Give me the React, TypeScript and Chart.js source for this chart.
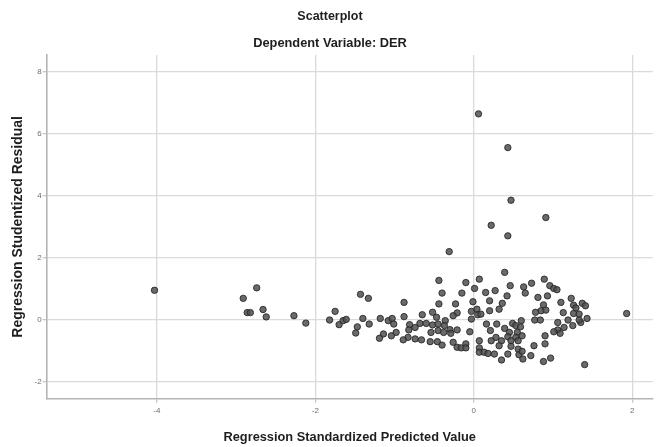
import { useEffect, useRef } from "react";
import { Chart, registerables } from "chart.js";

Chart.register(...registerables);

// Regression Standardized Predicted Value (x) / Studentized Residual (y)
const PREDICTED: number[] = [
  0.06, 0.43, 0.47, 0.91, 0.22, 0.43, -0.31, 0.39,
  -4.03, -2.91, -2.74, -2.86, -2.82, -2.66, -2.62, -2.27, -2.12,
  -1.82, -1.75, -1.70, -1.65, -1.61, -1.43, -1.33, -1.40, -1.32, -1.47, -1.49, -1.18, -1.08, -1.03, -1.01, -0.98, -1.04, -1.14, -1.19, -0.88, -0.88, -0.81, -0.82, -0.83, -0.89, -0.74, -0.74,
  -0.44, -0.40, -0.44, -0.65, -0.52, -0.47, -0.68, -0.60, -0.52, -0.45, -0.36, -0.37, -0.45, -0.54, -0.38, -0.30, -0.21, -0.29, -0.66, -0.55, -0.46, -0.40, -0.26, -0.21, -0.16, -0.10, -0.10, -0.23, -0.21, -0.26, -0.15, -0.10, 0.01, 0.07, -0.01, -0.03, -0.03, 0.04, 0.05, 0.09, 0.15, 0.20, 0.20, 0.27, 0.16, 0.21, -0.05, 0.07, 0.07, 0.07, 0.13, 0.18, 0.22, 0.26, 0.28, 0.29,
  0.46, 0.42, 0.36, 0.32, 0.63, 0.65, 0.73, 0.89, 0.96, 1.01, 1.05, 0.81, 0.93, 0.88, 0.85, 0.91, 0.78, 0.77, 0.84, 1.10, 1.23, 1.26, 1.26, 1.19, 1.14, 1.06, 1.06, 1.01, 1.09, 0.90, 0.90, 0.76, 0.72, 0.88, 0.97, 0.60, 0.49, 0.53, 0.59, 0.39, 0.45, 0.55, 0.61, 0.53, 0.43, 0.35, 0.47, 0.56, 0.32, 0.47, 0.43, 0.35, 0.56, 0.57, 0.61, 0.62,
  1.37, 1.41, 1.33, 1.43, 1.35, 1.33, 1.40, 1.93,
  1.29, 1.13, 1.25,
];

const RESIDUAL: number[] = [
  6.65, 5.56, 3.86, 3.30, 3.05, 2.71, 2.20, 1.53,
  0.95, 0.69, 1.03, 0.23, 0.23, 0.33, 0.09, 0.13, -0.11,
  -0.01, 0.27, -0.16, -0.03, 0.01, 0.82, 0.69, 0.04, -0.14, -0.23, -0.43, 0.04, -0.03, 0.04, -0.14, -0.41, -0.52, -0.46, -0.60, 0.56, 0.10, -0.16, -0.33, -0.57, -0.65, -0.25, -0.62,
  1.27, 0.86, 0.51, 0.16, 0.24, 0.08, -0.12, -0.12, -0.17, -0.14, -0.03, -0.19, -0.35, -0.41, -0.41, -0.32, -0.33, -0.44, -0.65, -0.71, -0.71, -0.82, -0.73, -0.89, -0.91, -0.78, -0.91, 0.51, 0.22, 0.13, 0.86, 1.20, 1.01, 1.31, 0.58, 0.27, 0.02, 0.34, 0.16, 0.18, 0.88, 0.61, 0.29, 0.94, -0.14, -0.35, -0.39, -0.68, -0.91, -1.05, -1.05, -1.09, -0.68, -1.11, -0.57, -0.14,
  1.10, 0.77, 0.53, 0.34, 1.06, 0.86, 1.18, 1.31, 1.10, 1.01, 0.97, 0.72, 0.77, 0.48, 0.29, 0.31, 0.24, -0.01, -0.01, 0.56, 0.69, 0.47, 0.20, -0.01, -0.25, -0.09, -0.33, -0.39, -0.44, -0.52, -0.78, -0.84, -1.16, -1.35, -1.24, -0.03, -0.12, -0.19, -0.23, -0.28, -0.41, -0.41, -0.52, -0.57, -0.55, -0.68, -0.68, -0.68, -0.84, -0.86, -1.11, -1.30, -0.95, -1.13, -1.02, -1.27,
  0.53, 0.45, 0.18, 0.04, -0.09, -0.01, -1.45, 0.20,
  0.38, 0.23, -0.19,
];

const X_TICKS = [-4, -2, 0, 2];
const Y_TICKS = [-2, 0, 2, 4, 6, 8];

const TITLE = "Scatterplot";
const SUBTITLE = "Dependent Variable: DER";
const X_TITLE = "Regression Standardized Predicted Value";
const Y_TITLE = "Regression Studentized Residual";

const FONT = "'Liberation Sans', Arial, sans-serif";

export default function App() {
  const ref = useRef<HTMLCanvasElement | null>(null);

  useEffect(() => {
    if (!ref.current) return;
    const points = PREDICTED.map((x, i) => ({ x, y: RESIDUAL[i] }));
    const chart = new Chart(ref.current, {
      type: "scatter",
      data: {
        datasets: [
          {
            data: points,
            pointRadius: 3.2,
            pointHoverRadius: 3.2,
            backgroundColor: "rgba(80,80,80,0.85)",
            borderColor: "rgba(35,35,35,0.85)",
            borderWidth: 1,
          },
        ],
      },
      options: {
        animation: false,
        responsive: true,
        maintainAspectRatio: false,
        layout: { padding: { left: 0, right: -3, top: 0, bottom: 0 } },
        plugins: {
          legend: { display: false },
          tooltip: { enabled: false },
          title: {
            display: true,
            text: TITLE,
            color: "#1e1e1e",
            font: { family: FONT, size: 12.5, weight: "bold" },
            padding: { top: 9.5, bottom: 11 },
          },
          subtitle: {
            display: true,
            text: SUBTITLE,
            color: "#1e1e1e",
            font: { family: FONT, size: 12.8, weight: "bold" },
            padding: { top: 0, bottom: 4.2 },
          },
        },
        scales: {
          x: {
            type: "linear",
            min: -5.392,
            max: 2.26,
            afterBuildTicks: (scale: any) => {
              scale.ticks = X_TICKS.map((v) => ({ value: v }));
            },
            ticks: {
              color: "#6e6e6e",
              font: { family: FONT, size: 8 },
              padding: 3,
              maxRotation: 0,
              minRotation: 0,
            },
            grid: {
              color: "#dadada",
              lineWidth: 1.3,
              tickLength: 4,
              tickColor: "#c8c8c8",
            },
            border: { display: true, color: "#b4b4b4", width: 1.6 },
            title: {
              display: true,
              text: X_TITLE,
              color: "#1e1e1e",
              font: { family: FONT, size: 12.8, weight: "bold" },
              padding: { top: 11.2, bottom: 2.2 },
            },
          },
          y: {
            type: "linear",
            min: -2.55,
            max: 8.55,
            afterBuildTicks: (scale: any) => {
              scale.ticks = Y_TICKS.map((v) => ({ value: v }));
            },
            ticks: {
              color: "#6e6e6e",
              font: { family: FONT, size: 8 },
              padding: 1,
            },
            grid: {
              color: "#dadada",
              lineWidth: 1.3,
              tickLength: 4,
              tickColor: "#c8c8c8",
            },
            border: { display: true, color: "#b4b4b4", width: 1.6 },
            title: {
              display: true,
              text: Y_TITLE,
              color: "#1e1e1e",
              font: { family: FONT, size: 14, weight: "bold" },
              padding: { top: 9.5, bottom: 7.2 },
            },
          },
        },
      },
    });
    return () => chart.destroy();
  }, []);

  return (
    <div
      style={{
        position: "fixed",
        left: 0,
        top: 0,
        width: 657,
        height: 447,
        background: "#ffffff",
      }}
    >
      <canvas ref={ref} />
    </div>
  );
}
